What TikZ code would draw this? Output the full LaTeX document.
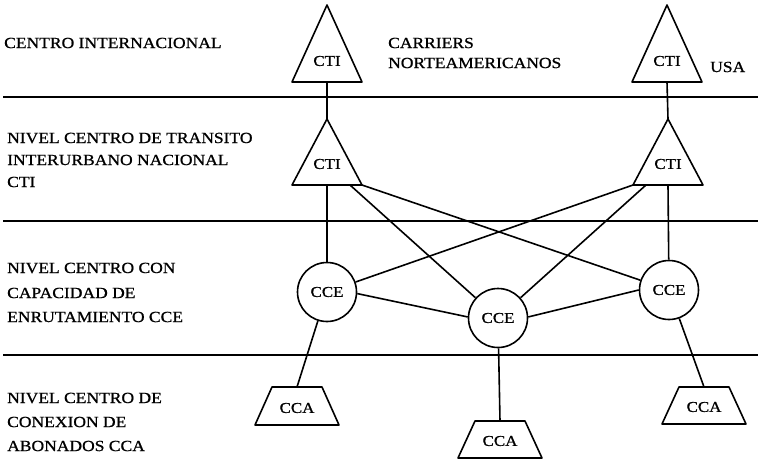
\documentclass[tikz,border=0pt]{standalone}
\usepackage{fontspec}
\setmainfont{Liberation Serif}
\newfontfamily\labfont[FakeStretch=1.13,FakeBold=0.9]{Liberation Serif}
\begin{document}
\begin{tikzpicture}[x=1pt,y=-1pt,
  net/.style={line width=1.6pt, line join=round},
  lvl/.style={line width=1.4pt},
  lab/.style={anchor=west, inner sep=0pt, font=\labfont\fontsize{15.5}{15.5}\selectfont},
  tag/.style={inner sep=0pt, font=\labfont\fontsize{15}{15}\selectfont},
  cce/.style={circle, draw, net, minimum size=59pt, inner sep=0pt, font=\labfont\fontsize{15}{15}\selectfont}]
\useasboundingbox (0,0) rectangle (758,461);

% level dividers
\draw[lvl] (3,97) -- (758,97);
\draw[lvl] (3,221) -- (758,221);
\draw[lvl] (3,355) -- (758,355);

% level captions
\node[lab] (l1) at (4,43) {CENTRO INTERNACIONAL};
\node[lab] (l2a) at (7,138) {NIVEL CENTRO DE TRANSITO};
\node[lab] (l2b) at (7,160) {INTERURBANO NACIONAL};
\node[lab] (l2c) at (7,182) {CTI};
\node[lab] (l3a) at (7,268) {NIVEL CENTRO CON};
\node[lab] (l3b) at (7,293) {CAPACIDAD DE};
\node[lab] (l3c) at (7,317) {ENRUTAMIENTO CCE};
\node[lab] (l4a) at (7,398) {NIVEL CENTRO DE};
\node[lab] (l4b) at (7,422) {CONEXION DE};
\node[lab] (l4c) at (7,446) {ABONADOS CCA};

\node[lab] (car1) at (388,43) {CARRIERS};
\node[lab] (car2) at (388,63) {NORTEAMERICANOS};
\node[lab] (usa) at (710,67) {USA};

% international transit centres
\draw[net] (327,5) -- (292,82) -- (362,82) -- cycle;
\coordinate (t1Lb) at (327,82);
\node[tag] (t1L) at (327,61) {CTI};
\draw[net] (667,5) -- (632,82) -- (702,82) -- cycle;
\coordinate (t1Rb) at (667,82);
\node[tag] (t1R) at (667,61) {CTI};

% national transit centres
\draw[net] (327,119) -- (292,185) -- (362,185) -- cycle;
\coordinate (t2La) at (327,119);
\coordinate (t2Lb) at (327,185);
\coordinate (t2Lr) at (362,185);
\coordinate (t2Lm) at (350,185);
\node[tag] (t2L) at (327,164) {CTI};
\draw[net] (668,119) -- (633,185) -- (703,185) -- cycle;
\coordinate (t2Ra) at (668,119);
\coordinate (t2Rb) at (668,185);
\coordinate (t2Rl) at (633,185);
\coordinate (t2Rm) at (646,185);
\node[tag] (t2R) at (668,164) {CTI};

% routing centres
\node[cce] (c1) at (327,292) {CCE};
\node[cce] (c2) at (498,318) {CCE};
\node[cce] (c3) at (669,290) {CCE};

% subscriber connection centres
\draw[net] (272,387) -- (322,387) -- (339,425) -- (255,425) -- cycle;
\coordinate (a1t) at (297,387);
\node[tag] (a1) at (297,408) {CCA};
\draw[net] (475,421) -- (525,421) -- (542,458) -- (458,458) -- cycle;
\coordinate (a2t) at (500,421);
\node[tag] (a2) at (500,441) {CCA};
\draw[net] (679,387) -- (729,387) -- (746,424) -- (662,424) -- cycle;
\coordinate (a3t) at (704,387);
\node[tag] (a3) at (704,407) {CCA};

% links
\draw[net] (t1Lb) -- (t2La);
\draw[net] (t1Rb) -- (t2Ra);
\draw[net] (t2Lb) -- (c1);
\draw[net] (t2Rb) -- (c3);
\draw[net] (t2Lr) -- (c3);
\draw[net] (t2Lm) -- (c2);
\draw[net] (t2Rl) -- (c1);
\draw[net] (t2Rm) -- (c2);
\draw[net] (c1.-3) -- (c2.178);
\draw[net] (c2.2) -- (c3.west);
\draw[net] (c1) -- (a1t);
\draw[net] (c2) -- (a2t);
\draw[net] (c3) -- (a3t);
\end{tikzpicture}
\end{document}
